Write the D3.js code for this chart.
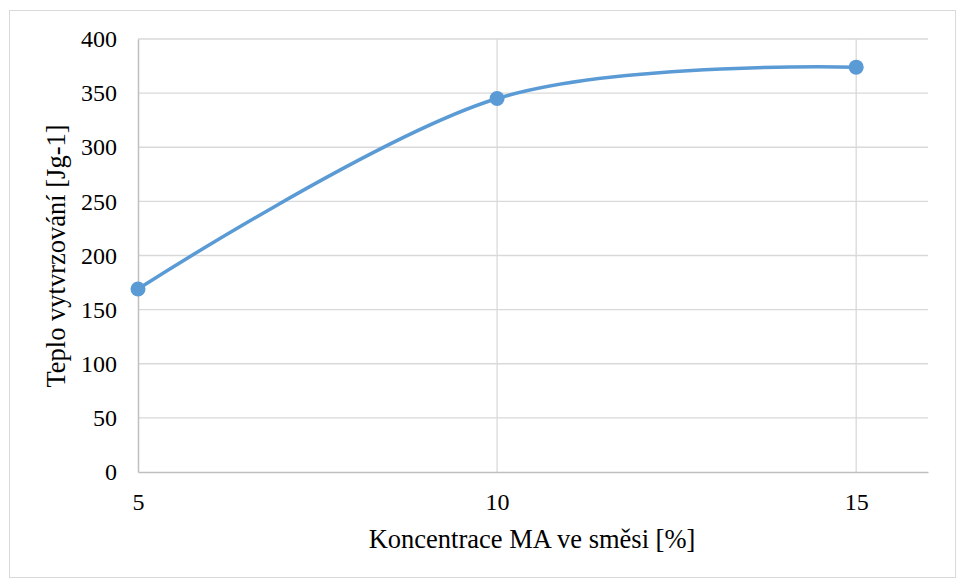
<!DOCTYPE html>
<html>
<head>
<meta charset="utf-8">
<script src="https://cdn.jsdelivr.net/npm/d3@7"></script>
<style>
  body { margin: 0; background: #fff; }
  svg text { font-family: "Liberation Serif", "Times New Roman", serif; }
</style>
</head>
<body>
<div id="chart"></div>
<script>
// data
var concentrations = [5, 10, 15];
var heatValues = [169, 345, 374];
var yTicks = [0, 50, 100, 150, 200, 250, 300, 350, 400];
var xTicks = [5, 10, 15];

var fontFam = "'Liberation Serif', 'Times New Roman', serif";

var width = 956, height = 578;
var margin = {top: 39, right: 28, bottom: 106, left: 138};
var innerW = width - margin.left - margin.right,
    innerH = height - margin.top - margin.bottom;

var svg = d3.select("#chart")
  .append("svg")
    .attr("width", width)
    .attr("height", height)
    .attr("font-family", fontFam);

// outer frame
svg.append("rect")
  .attr("x", 9.5).attr("y", 10.5)
  .attr("width", width - 10).attr("height", height - 11)
  .attr("fill", "none")
  .attr("stroke", "#d9d9d9");

var g = svg.append("g")
  .attr("transform", "translate(" + margin.left + "," + margin.top + ")");

var x = d3.scaleLinear().domain([5, 16]).range([0, innerW]);
var y = d3.scaleLinear().domain([0, 400]).range([innerH, 0]);

// horizontal grid
g.selectAll(".hgrid")
  .data(yTicks.filter(function(d) { return d > 0; }))
  .enter().append("line")
    .attr("x1", 0).attr("x2", innerW)
    .attr("y1", function(d) { return y(d); })
    .attr("y2", function(d) { return y(d); })
    .attr("stroke", "#d9d9d9").attr("stroke-width", 1.3);

// vertical grid
g.selectAll(".vgrid")
  .data(xTicks.filter(function(d) { return d > 5; }))
  .enter().append("line")
    .attr("x1", function(d) { return x(d); })
    .attr("x2", function(d) { return x(d); })
    .attr("y1", 0).attr("y2", innerH)
    .attr("stroke", "#d9d9d9").attr("stroke-width", 1.3);

// axes
var yAxis = g.append("g")
  .call(d3.axisLeft(y).tickValues(yTicks).tickSize(0).tickPadding(21));
yAxis.attr("font-family", null).attr("font-size", null);
yAxis.select(".domain").attr("stroke", "#bfbfbf").attr("stroke-width", 1.5);
yAxis.selectAll("text")
  .style("font-family", fontFam)
  .style("font-size", "24px")
  .attr("fill", "#000");

var xAxis = g.append("g")
  .attr("transform", "translate(0," + innerH + ")")
  .call(d3.axisBottom(x).tickValues(xTicks).tickSize(0).tickPadding(21));
xAxis.attr("font-family", null).attr("font-size", null);
xAxis.select(".domain").attr("stroke", "#bfbfbf").attr("stroke-width", 1.5);
xAxis.selectAll("text")
  .style("font-family", fontFam)
  .style("font-size", "24px")
  .attr("fill", "#000");

// axis titles
svg.append("text")
  .attr("x", 532)
  .attr("y", 548)
  .attr("text-anchor", "middle")
  .style("font-size", "26.5px")
  .text("Koncentrace MA ve směsi [%]");

svg.append("text")
  .attr("transform", "translate(65,256) rotate(-90)")
  .attr("text-anchor", "middle")
  .style("font-size", "26.5px")
  .text("Teplo vytvrzování [Jg-1]");

// smoothed line
var points = concentrations.map(function(c, i) { return [c, heatValues[i]]; });
var line = d3.line()
  .x(function(d) { return x(d[0]); })
  .y(function(d) { return y(d[1]); })
  .curve(d3.curveCardinal.tension(0));

g.append("path")
  .datum(points)
  .attr("d", line)
  .attr("fill", "none")
  .attr("stroke", "#5b9bd5")
  .attr("stroke-width", 3.5)
  .attr("stroke-linecap", "round");

g.selectAll(".dot")
  .data(points)
  .enter().append("circle")
    .attr("cx", function(d) { return x(d[0]); })
    .attr("cy", function(d) { return y(d[1]); })
    .attr("r", 7.5)
    .attr("fill", "#5b9bd5");
</script>
</body>
</html>
